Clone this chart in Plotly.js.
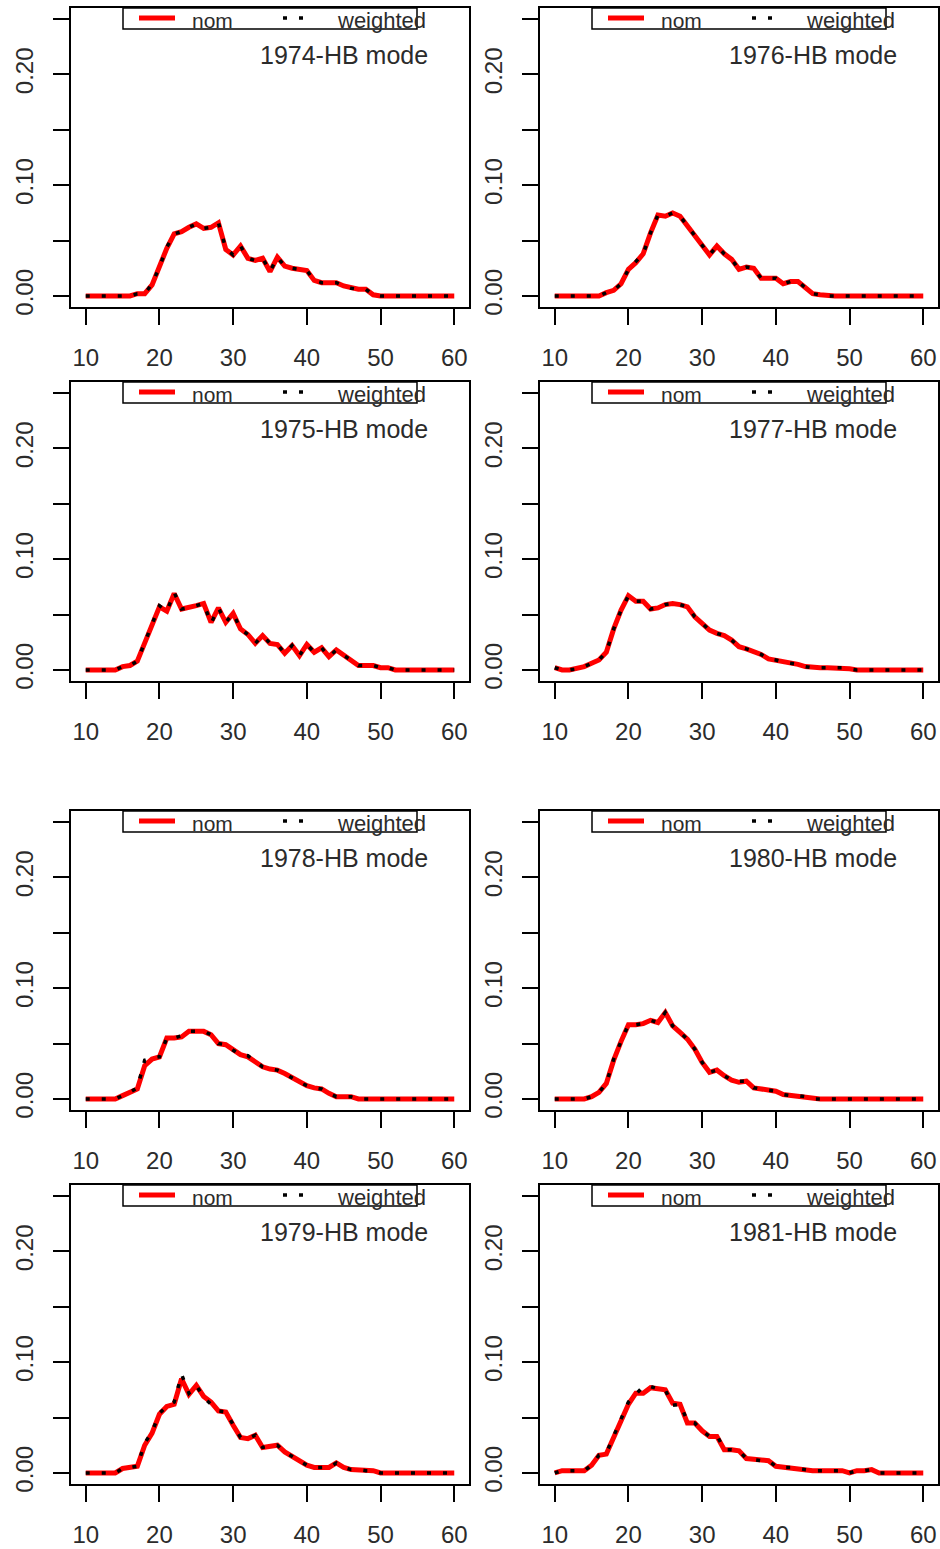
<!DOCTYPE html>
<html><head><meta charset="utf-8">
<script src="https://cdn.plot.ly/plotly-3.0.1.min.js"></script>
<style>html,body{margin:0;padding:0;background:#fff}#chart{width:940px;height:1549px}</style>
</head><body><div id="chart"></div>
<script>
// ---- data ----
const ages = [10,11,12,13,14,15,16,17,18,19,20,21,22,23,24,25,26,27,28,29,30,31,32,33,34,35,36,37,38,39,40,41,42,43,44,45,46,47,48,49,50,51,52,53,54,55,56,57,58,59,60];
const xTickVals = [10,20,30,40,50,60];
const xTickText = ['10','20','30','40','50','60'];
const yTickVals = [0,0.05,0.10,0.15,0.20,0.25];
const yTickText = ['0.00','','0.10','','0.20',''];
const seriesNames = ['nom','weighted'];
const panelTitles = ['1974-HB mode','1976-HB mode','1975-HB mode','1977-HB mode','1978-HB mode','1980-HB mode','1979-HB mode','1981-HB mode'];

const nom1974 = [0,0,0,0,0,0,0,0.002,0.002,0.010,0.026,0.043,0.056,0.058,0.062,0.065,0.061,0.062,0.066,0.042,0.037,0.045,0.034,0.032,0.034,0.022,0.035,0.027,0.025,0.024,0.023,0.014,0.012,0.012,0.012,0.009,0.007,0.006,0.006,0.001,0,0,0,0,0,0,0,0,0,0,0];
const wtd1974 = [0,0,0,0,0,0,0,0.002,0.002,0.011,0.026,0.044,0.056,0.058,0.062,0.065,0.061,0.062,0.066,0.043,0.037,0.045,0.034,0.032,0.034,0.022,0.035,0.027,0.025,0.024,0.023,0.014,0.012,0.012,0.012,0.009,0.007,0.006,0.006,0.001,0,0,0,0,0,0,0,0,0,0,0];
const nom1976 = [0,0,0,0,0,0,0,0.003,0.005,0.011,0.024,0.030,0.038,0.057,0.073,0.072,0.075,0.072,0.063,0.055,0.045,0.037,0.045,0.038,0.033,0.024,0.026,0.025,0.016,0.016,0.016,0.011,0.013,0.013,0.007,0.002,0.001,0,0,0,0,0,0,0,0,0,0,0,0,0,0];
const wtd1976 = [0,0,0,0,0,0,0,0.003,0.005,0.011,0.024,0.031,0.038,0.057,0.073,0.072,0.075,0.072,0.063,0.055,0.045,0.037,0.045,0.038,0.033,0.024,0.026,0.025,0.016,0.016,0.016,0.011,0.013,0.013,0.007,0.002,0.001,0,0,0,0,0,0,0,0,0,0,0,0,0,0];
const nom1975 = [0,0,0,0,0,0.003,0.004,0.008,0.024,0.040,0.057,0.053,0.069,0.055,0.056,0.058,0.060,0.043,0.056,0.043,0.051,0.037,0.032,0.024,0.031,0.024,0.023,0.015,0.022,0.013,0.023,0.016,0.020,0.012,0.018,0.013,0.009,0.004,0.004,0.004,0.002,0.002,0,0,0,0,0,0,0,0,0];
const wtd1975 = [0,0,0,0,0,0.003,0.004,0.008,0.024,0.041,0.058,0.053,0.070,0.055,0.056,0.058,0.060,0.042,0.056,0.043,0.051,0.037,0.032,0.024,0.031,0.024,0.023,0.015,0.022,0.013,0.023,0.016,0.020,0.012,0.018,0.013,0.009,0.004,0.004,0.004,0.002,0.002,0,0,0,0,0,0,0,0,0];
const nom1977 = [0.002,0,0,0.001,0.003,0.006,0.009,0.016,0.037,0.054,0.067,0.062,0.062,0.055,0.056,0.059,0.060,0.059,0.057,0.048,0.042,0.036,0.033,0.031,0.027,0.021,0.019,0.017,0.014,0.010,0.009,0.007,0.006,0.005,0.003,0.002,0.002,0.002,0.002,0.002,0.001,0,0,0,0,0,0,0,0,0,0];
const wtd1977 = [0.002,0,0,0.001,0.003,0.006,0.009,0.016,0.037,0.054,0.067,0.062,0.062,0.055,0.056,0.059,0.060,0.059,0.057,0.048,0.042,0.036,0.033,0.031,0.027,0.021,0.019,0.017,0.014,0.010,0.009,0.007,0.006,0.005,0.003,0.002,0.002,0.002,0.002,0.002,0.001,0,0,0,0,0,0,0,0,0,0];
const nom1978 = [0,0,0,0,0,0.003,0.006,0.009,0.030,0.036,0.038,0.055,0.055,0.056,0.061,0.061,0.061,0.058,0.050,0.049,0.044,0.040,0.038,0.034,0.029,0.027,0.026,0.023,0.019,0.015,0.012,0.010,0.009,0.005,0.002,0.002,0.002,0,0,0,0,0,0,0,0,0,0,0,0,0,0];
const wtd1978 = [0,0,0,0,0,0.003,0.006,0.010,0.035,0.037,0.038,0.055,0.055,0.057,0.061,0.061,0.061,0.058,0.050,0.049,0.044,0.040,0.039,0.034,0.029,0.027,0.026,0.023,0.019,0.015,0.012,0.010,0.009,0.005,0.002,0.002,0.002,0,0,0,0,0,0,0,0,0,0,0,0,0,0];
const nom1980 = [0,0,0,0,0,0.002,0.006,0.014,0.035,0.052,0.067,0.067,0.068,0.071,0.069,0.078,0.066,0.060,0.054,0.045,0.033,0.024,0.026,0.021,0.017,0.015,0.016,0.010,0.009,0.008,0.007,0.004,0.003,0.003,0.002,0,0,0,0,0,0,0,0,0,0,0,0,0,0,0,0];
const wtd1980 = [0,0,0,0,0,0.002,0.006,0.014,0.036,0.052,0.067,0.067,0.068,0.071,0.069,0.078,0.066,0.060,0.054,0.045,0.033,0.024,0.026,0.021,0.017,0.016,0.016,0.010,0.009,0.008,0.007,0.004,0.003,0.003,0.002,0,0,0,0,0,0,0,0,0,0,0,0,0,0,0,0];
const nom1979 = [0,0,0,0,0,0.004,0.005,0.006,0.025,0.036,0.053,0.060,0.062,0.085,0.071,0.079,0.069,0.064,0.056,0.055,0.043,0.032,0.031,0.034,0.023,0.024,0.025,0.019,0.015,0.011,0.007,0.005,0.005,0.005,0.009,0.005,0.003,0.003,0.002,0.002,0,0,0,0,0,0,0,0,0,0,0];
const wtd1979 = [0,0,0,0,0,0.004,0.005,0.006,0.027,0.037,0.054,0.060,0.064,0.089,0.072,0.079,0.068,0.062,0.056,0.055,0.043,0.032,0.031,0.034,0.023,0.024,0.025,0.019,0.015,0.011,0.007,0.005,0.005,0.005,0.009,0.005,0.003,0.003,0.002,0.002,0,0,0,0,0,0,0,0,0,0,0];
const nom1981 = [0,0.002,0.002,0.002,0.002,0.007,0.016,0.017,0.032,0.047,0.062,0.072,0.072,0.077,0.076,0.075,0.063,0.062,0.045,0.045,0.038,0.033,0.033,0.021,0.021,0.020,0.013,0.012,0.011,0.011,0.006,0.005,0.005,0.004,0.003,0.002,0.002,0.002,0.002,0.002,0,0.002,0.002,0.003,0,0,0,0,0,0,0];
const wtd1981 = [0,0.002,0.002,0.002,0.002,0.007,0.016,0.018,0.033,0.048,0.064,0.071,0.078,0.078,0.076,0.075,0.061,0.062,0.047,0.045,0.038,0.033,0.034,0.021,0.021,0.020,0.013,0.012,0.011,0.011,0.006,0.005,0.005,0.004,0.003,0.002,0.002,0.002,0.002,0.002,0,0.002,0.002,0.003,0,0,0,0,0,0,0];

const nomSeries = [nom1974, nom1976, nom1975, nom1977, nom1978, nom1980, nom1979, nom1981];
const wtdSeries = [wtd1974, wtd1976, wtd1975, wtd1977, wtd1978, wtd1980, wtd1979, wtd1981];

// ---- layout geometry (pixels) ----
const W = 940, H = 1549;
const colLeft = [71, 540], colRight = [469, 938];
const rowTop = [8, 382, 811, 1185], rowBot = [307, 681, 1110, 1484];
const px = v => v / W;
const py = v => 1 - v / H;
const FONT = 'Liberation Sans, Arial, Helvetica, sans-serif';
const TXT = '#2b2b2b';

const data = [], layout = {
  width: W, height: H, margin: {l:0, r:0, t:0, b:0},
  paper_bgcolor: '#fff', plot_bgcolor: '#fff', showlegend: false,
  shapes: [], annotations: []
};

for (let i = 0; i < 8; i++) {
  const r = Math.floor(i / 2), c = i % 2;
  const n = i + 1;
  const xa = 'xaxis' + (n === 1 ? '' : n), ya = 'yaxis' + (n === 1 ? '' : n);
  const xr = 'x' + (n === 1 ? '' : n), yr = 'y' + (n === 1 ? '' : n);
  layout[xa] = {
    domain: [px(colLeft[c]), px(colRight[c])], anchor: yr, range: [8, 62],
    tickmode: 'array', tickvals: xTickVals, ticktext: xTickText,
    ticks: 'outside', ticklen: 16, tickwidth: 2, tickcolor: '#000',
    showline: true, mirror: true, linecolor: '#000', linewidth: 2,
    showgrid: false, zeroline: false, automargin: false, fixedrange: true,
    ticklabelstandoff: 12,
    tickfont: {family: FONT, size: 24, color: TXT}
  };
  layout[ya] = {
    domain: [py(rowBot[r]), py(rowTop[r])], anchor: xr, range: [-0.01, 0.26],
    tickmode: 'array', tickvals: yTickVals, ticktext: yTickText,
    ticks: 'outside', ticklen: 16, tickwidth: 2, tickcolor: '#000',
    showline: true, mirror: true, linecolor: '#000', linewidth: 2,
    showgrid: false, zeroline: false, automargin: false, fixedrange: true,
    tickangle: -90, ticklabelstandoff: 10,
    tickfont: {family: FONT, size: 24, color: TXT}
  };
  data.push({x: ages, y: nomSeries[i], xaxis: xr, yaxis: yr, type: 'scatter', mode: 'lines',
    name: seriesNames[0], line: {color: '#ff0000', width: 5}, hoverinfo: 'skip'});
  data.push({x: ages, y: wtdSeries[i], xaxis: xr, yaxis: yr, type: 'scatter', mode: 'lines',
    name: seriesNames[1], line: {color: '#000', width: 3.5, dash: '4px,12px'}, hoverinfo: 'skip'});

  const L = colLeft[c], T = rowTop[r];
  // legend box
  layout.shapes.push({type: 'rect', xref: 'paper', yref: 'paper',
    x0: px(L + 52), x1: px(L + 346), y0: py(T + 21), y1: py(T),
    line: {color: '#000', width: 1.5}, fillcolor: 'rgba(0,0,0,0)'});
  layout.shapes.push({type: 'line', xref: 'paper', yref: 'paper',
    x0: px(L + 68), x1: px(L + 104), y0: py(T + 10), y1: py(T + 10),
    line: {color: '#ff0000', width: 5}});
  layout.shapes.push({type: 'line', xref: 'paper', yref: 'paper',
    x0: px(L + 212), x1: px(L + 236), y0: py(T + 10), y1: py(T + 10),
    line: {color: '#000', width: 3.5, dash: '4px,12px'}});
  layout.annotations.push({xref: 'paper', yref: 'paper', x: px(L + 119), y: py(T + 12),
    xanchor: 'left', yanchor: 'middle', text: seriesNames[0], showarrow: false,
    font: {family: FONT, size: 21, color: TXT}});
  layout.annotations.push({xref: 'paper', yref: 'paper', x: px(L + 264), y: py(T + 12),
    xanchor: 'left', yanchor: 'middle', text: seriesNames[1], showarrow: false,
    font: {family: FONT, size: 22, color: TXT}});
  layout.annotations.push({xref: 'paper', yref: 'paper', x: px(L + 359), y: py(T + 47),
    xanchor: 'right', yanchor: 'middle', text: panelTitles[i], showarrow: false,
    font: {family: FONT, size: 25, color: TXT}});
}

Plotly.newPlot('chart', data, layout, {staticPlot: true, displayModeBar: false});
</script>
</body></html>
